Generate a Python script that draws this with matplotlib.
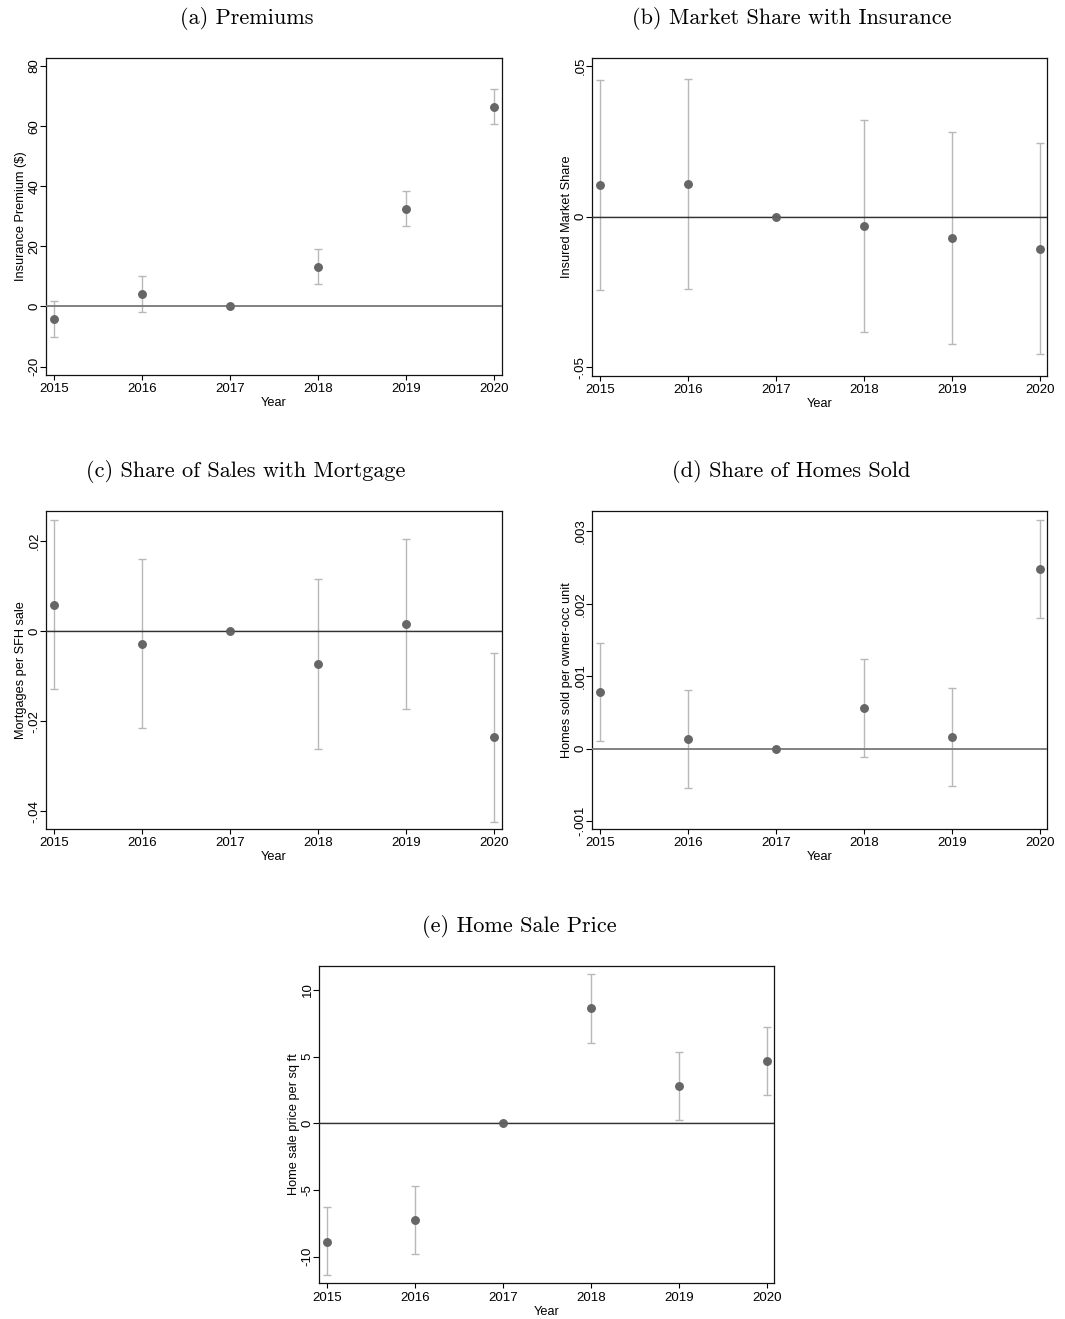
import numpy as np
import matplotlib
matplotlib.use("Agg")
import matplotlib.pyplot as plt

plt.rcParams['font.family'] = ['Liberation Sans', 'DejaVu Sans']

years = [2015, 2016, 2017, 2018, 2019, 2020]

# point estimates and 95% CI bounds per panel
prem_est = [-4.2, 4.1, 0.0, 13.3, 32.5, 66.5]
prem_lo = [-10.0, -1.7, 0.0, 7.6, 26.7, 60.7]
prem_hi = [1.7, 10.0, 0.0, 19.2, 38.3, 72.3]

share_est = [0.0104, 0.0107, 0.0, -0.0032, -0.0072, -0.0106]
share_lo = [-0.0244, -0.0240, 0.0, -0.0382, -0.0422, -0.0457]
share_hi = [0.0453, 0.0456, 0.0, 0.0319, 0.0279, 0.0245]

mort_est = [0.0058, -0.0028, 0.0, -0.0073, 0.0016, -0.0236]
mort_lo = [-0.0129, -0.0215, 0.0, -0.0262, -0.0172, -0.0424]
mort_hi = [0.0246, 0.0160, 0.0, 0.0116, 0.0205, -0.0048]

sold_est = [0.000777, 0.000133, 0.0, 0.000561, 0.000156, 0.00248]
sold_lo = [0.000106, -0.000542, 0.0, -0.000115, -0.00052, 0.0018]
sold_hi = [0.001458, 0.00081, 0.0, 0.00124, 0.000832, 0.00316]

price_est = [-8.88, -7.28, 0.0, 8.63, 2.80, 4.65]
price_lo = [-11.4, -9.83, 0.0, 6.05, 0.22, 2.10]
price_hi = [-6.30, -4.70, 0.0, 11.2, 5.37, 7.25]

prem_ticks = [-20, 0, 20, 40, 60, 80]
prem_labels = ['-20', '0', '20', '40', '60', '80']
share_ticks = [-0.05, 0, 0.05]
share_labels = ['-.05', '0', '.05']
mort_ticks = [-0.04, -0.02, 0, 0.02]
mort_labels = ['-.04', '-.02', '0', '.02']
sold_ticks = [-0.001, 0, 0.001, 0.002, 0.003]
sold_labels = ['-.001', '0', '.001', '.002', '.003']
price_ticks = [-10, -5, 0, 5, 10]
price_labels = ['-10', '-5', '0', '5', '10']

W, H = 1065, 1319
fig = plt.figure(figsize=(W / 100, H / 100), dpi=100)


def panel(left, top, right, bottom, title, title_x, ylabel, est, lo, hi,
          ticks, labels, ylim, zero_color, zero_lw):
    ax = fig.add_axes([left / W, 1 - bottom / H, (right - left) / W, (bottom - top) / H])
    est = np.array(est)
    lo = np.array(lo)
    hi = np.array(hi)
    yrs = np.array(years)
    m = hi > lo
    ax.errorbar(yrs[m], est[m], yerr=[est[m] - lo[m], hi[m] - est[m]], fmt='none',
                ecolor='#b8b8b8', elinewidth=1.0, capsize=2.6, capthick=1.0, zorder=2)
    ax.axhline(0, color=zero_color, lw=zero_lw, zorder=3)
    ax.plot(yrs, est, 'o', color='#666666', ms=5.4, mec='#666666', zorder=4)
    ax.axhline(0, color=zero_color, lw=zero_lw * 0.35, alpha=0.5, zorder=5)

    ax.set_xlim(2015 - 8 / 88, 2015 - 8 / 88 + (right - left) / 88)
    ax.set_ylim(*ylim)
    ax.set_xticks(years)
    ax.set_xticklabels([str(y) for y in years])
    ax.set_yticks(ticks)
    ax.set_yticklabels(labels)
    ax.tick_params(axis='x', length=3.8, width=0.8, pad=2.2, labelsize=9.5)
    ax.tick_params(axis='y', length=4.3, width=0.8, pad=-0.6, labelsize=9.5,
                   labelrotation=90)
    for t in ax.get_yticklabels():
        t.set_va('center')
    for s in ax.spines.values():
        s.set_linewidth(0.9)
        s.set_color('#111111')

    h = bottom - top
    w = right - left
    ax.set_xlabel('Year', fontsize=9.2)
    ax.xaxis.set_label_coords(0.5, -22.5 / h)
    ax.set_ylabel(ylabel, fontsize=9.2)
    ax.yaxis.set_label_coords(-18.5 / w, 0.5)

    fig.text(title_x / W, 1 - (top - 39.5) / H, title, family='cmr10',
             fontsize=16, ha='center', va='center')
    return ax


panel(45.7, 57.7, 501.7, 375.0, '(a) Premiums', 246.5, 'Insurance Premium ($)',
      prem_est, prem_lo, prem_hi, prem_ticks, prem_labels, (-22.8, 82.8), '#7a7a7a', 1.3)
panel(591.7, 57.7, 1046.7, 375.7, '(b) Market Share with Insurance', 791.7,
      'Insured Market Share', share_est, share_lo, share_hi,
      share_ticks, share_labels, (-0.0528, 0.0527), '#333333', 1.0)
panel(45.7, 511.0, 501.7, 829.0, '(c) Share of Sales with Mortgage', 246.0,
      'Mortgages per SFH sale', mort_est, mort_lo, mort_hi,
      mort_ticks, mort_labels, (-0.0439, 0.0266), '#333333', 1.0)
panel(591.7, 511.0, 1046.7, 829.0, '(d) Share of Homes Sold', 791.3,
      'Homes sold per owner-occ unit', sold_est, sold_lo, sold_hi,
      sold_ticks, sold_labels, (-0.00111, 0.00328), '#7a7a7a', 1.3)
panel(319.0, 965.7, 774.3, 1283.3, '(e) Home Sale Price', 519.0,
      'Home sale price per sq ft', price_est, price_lo, price_hi,
      price_ticks, price_labels, (-12.0, 11.82), '#333333', 1.0)

fig.savefig('out.png', dpi=100, facecolor='white')
